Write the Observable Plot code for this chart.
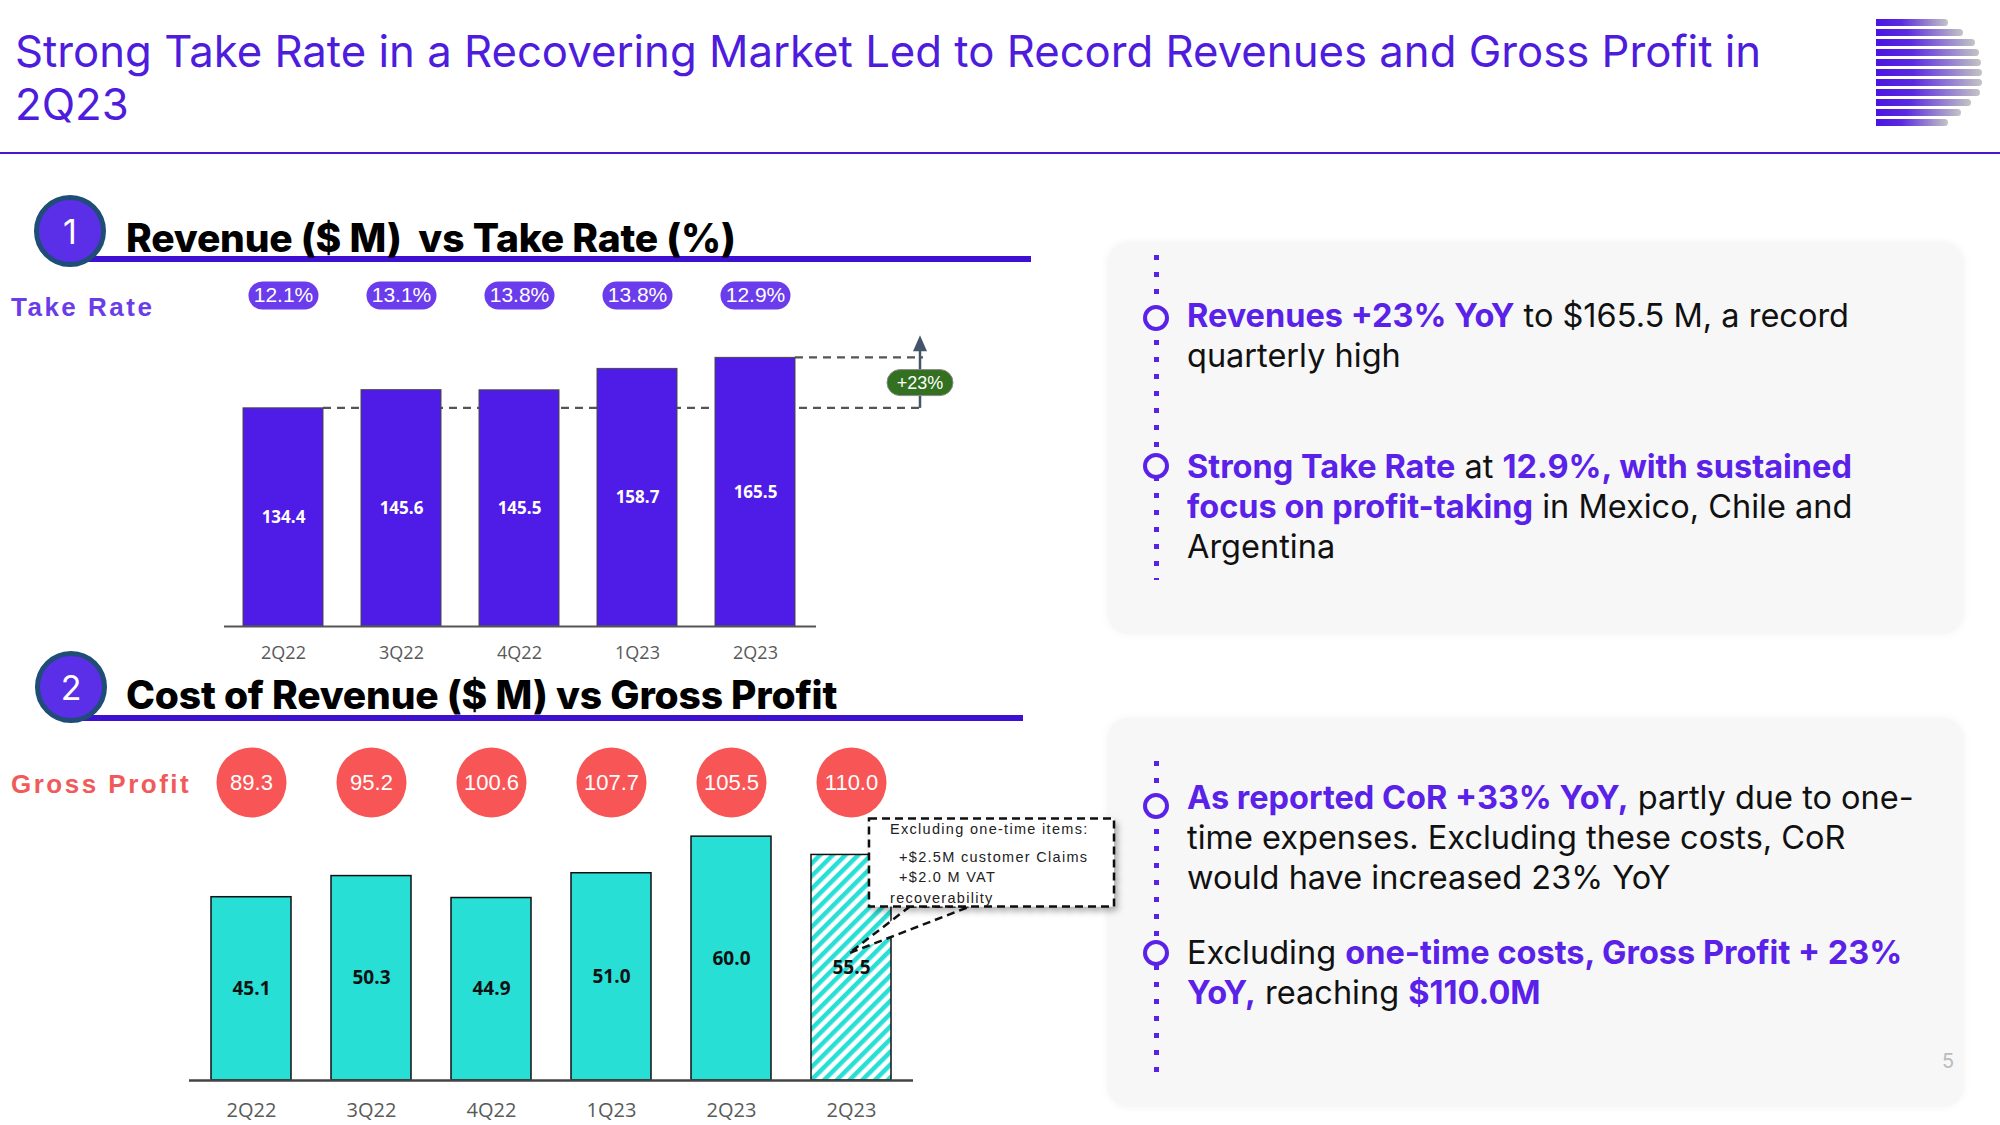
<!DOCTYPE html>
<html><head><meta charset="utf-8">
<script src="https://cdn.jsdelivr.net/npm/d3@7"></script>
<script src="https://cdn.jsdelivr.net/npm/@observablehq/plot@0.6"></script>
<style>
body{margin:0;width:2000px;height:1125px;position:relative;overflow:hidden;background:#fff;font-family:Inter,"Noto Sans",sans-serif;}
.abs{position:absolute;}
#title{left:15px;top:25px;font-size:43.7px;line-height:53px;color:#4E1CDC;white-space:nowrap;}
#rule{left:0;top:152px;width:2000px;height:2px;background:#4B14D0;}
.num{width:72px;height:72px;box-sizing:border-box;border:5px solid #1F4D78;background:#5B2EE8;border-radius:50%;color:#fff;font-size:34px;display:flex;align-items:center;justify-content:center;z-index:3;}
.uline{height:6px;background:#3D10D2;z-index:1;}
.head{font-weight:800;font-size:39px;line-height:1;color:#000;white-space:nowrap;letter-spacing:-0.2px;z-index:2;}
.lab{font-family:"Liberation Sans",Arial,sans-serif;font-weight:700;font-size:26px;letter-spacing:2.5px;white-space:nowrap;line-height:1;}
.panel{background:#F7F7F7;border-radius:22px;box-shadow:0 0 8px rgba(0,0,0,0.05);}
.dots{width:5px;background:repeating-linear-gradient(to bottom,#5A22E8 0 5px,transparent 5px 17px);}
.ring{width:26px;height:26px;box-sizing:border-box;border:4px solid #5A22E8;border-radius:50%;background:#F7F7F7;}
.txt{font-size:32.5px;line-height:40px;color:#111;white-space:nowrap;}
.txt b{color:#5A22E8;font-weight:700;}
#pg{left:1942px;top:1049px;font-size:20px;color:#bbb;}
.lg{height:7px;border-radius:0 4px 4px 0;background:linear-gradient(to right,#4B14E0 0%,#5A2AE0 35%,#c4c4c4 100%);}
</style></head><body>
<div id="title" class="abs">Strong Take Rate in a Recovering Market Led to Record Revenues and Gross Profit in<br>2Q23</div>
<div id="rule" class="abs"></div>
<div id="logo"></div>

<div class="abs uline" style="left:77px;top:256px;width:954px"></div>
<div class="abs num" style="left:34px;top:195px">1</div>
<div class="abs head" style="left:126px;top:218px">Revenue ($ M)&nbsp; vs Take Rate (%)</div>
<div class="abs lab" style="left:11px;top:294px;color:#6A3DE8">Take Rate</div>

<div class="abs uline" style="left:77px;top:715px;width:946px"></div>
<div class="abs num" style="left:35px;top:651px">2</div>
<div class="abs head" style="left:126px;top:675px">Cost of Revenue ($ M) vs Gross Profit</div>
<div class="abs lab" style="left:11px;top:771px;color:#F05A5A">Gross Profit</div>

<div class="abs panel" style="left:1107px;top:242px;width:857px;height:392px"></div>
<div class="abs dots" style="left:1154px;top:255px;height:325px"></div>
<div class="abs ring" style="left:1143px;top:305px"></div>
<div class="abs ring" style="left:1143px;top:453px"></div>
<div class="abs txt" style="left:1187px;top:296px"><b>Revenues +23% YoY</b> to $165.5 M, a record<br>quarterly high</div>
<div class="abs txt" style="left:1187px;top:447px"><b>Strong Take Rate</b> at <b>12.9%, with sustained<br>focus on profit-taking</b> in Mexico, Chile and<br>Argentina</div>

<div class="abs panel" style="left:1107px;top:718px;width:857px;height:389px"></div>
<div class="abs dots" style="left:1154px;top:761px;height:318px"></div>
<div class="abs ring" style="left:1143px;top:793px"></div>
<div class="abs ring" style="left:1143px;top:940px"></div>
<div class="abs txt" style="left:1187px;top:778px"><b>As reported CoR +33% YoY,</b> partly due to one-<br>time expenses. Excluding these costs, CoR<br>would have increased 23% YoY</div>
<div class="abs txt" style="left:1187px;top:933px">Excluding <b>one-time costs, Gross Profit + 23%<br>YoY,</b> reaching <b>$110.0M</b></div>
<div id="pg" class="abs">5</div>

<div id="c1" class="abs" style="left:0;top:270px"></div>
<div id="c2" class="abs" style="left:0;top:730px"></div>

<script>
// ---- data ----
const quarters = ["2Q22","3Q22","4Q22","1Q23","2Q23"];
const revenue = [134.4,145.6,145.5,158.7,165.5];
const takeRate = [12.1,13.1,13.8,13.8,12.9];

const corKeys = ["2Q22","3Q22","4Q22","1Q23","2Q23","2Q23 adj"];
const corLabels = ["2Q22","3Q22","4Q22","1Q23","2Q23","2Q23"];
const costOfRevenue = [45.1,50.3,44.9,51.0,60.0,55.5];
const grossProfit = [89.3,95.2,100.6,107.7,105.5,110.0];
const corAdjusted = [false,false,false,false,false,true];
const calloutLines = ["Excluding one-time items:","+$2.5M customer Claims","+$2.0 M VAT","recoverability"];

// ---- logo (decoration) ----
const logoW = [72,87,99,103,105,106,106,104,95,85,72];
const logo = document.getElementById("logo");
logoW.forEach((w,i)=>{const d=document.createElement("div");d.className="abs lg";d.style.left="1876px";d.style.top=(19+i*10)+"px";d.style.width=w+"px";logo.appendChild(d);});

const narrow = "'Liberation Sans Narrow','Liberation Sans',Arial,sans-serif";
const pill = (aspect)=>({draw(ctx,size){const r=Math.sqrt(size/Math.PI);const w=r*aspect;
  ctx.moveTo(-w+r,-r);ctx.lineTo(w-r,-r);ctx.arc(w-r,0,r,-Math.PI/2,Math.PI/2);ctx.lineTo(-w+r,r);ctx.arc(-w+r,0,r,Math.PI/2,3*Math.PI/2);ctx.closePath();}});

// ---- chart 1 ----
const revData = quarters.map((q,i)=>({q,v:revenue[i],tr:takeRate[i]}));
const p1 = Plot.plot({
  width:1050,height:400,marginLeft:204,marginRight:215,marginTop:20,marginBottom:44,
  style:{background:"transparent",overflow:"visible",fontFamily:"'Open Sans',sans-serif",fontSize:"18px",color:"#595959"},
  x:{domain:quarters,padding:0.32,label:null,tickSize:0,tickPadding:20},
  y:{domain:[0,207],axis:null},
  marks:[
    Plot.barY(revData,{x:"q",y:"v",fill:"#4F1BE6",stroke:"#4a4a4a",strokeWidth:1}),
    Plot.ruleY([0],{stroke:"#555",strokeWidth:2,insetLeft:20,insetRight:19}),
    Plot.text(revData,{x:"q",y:d=>d.v/2,text:d=>d.v.toFixed(1),fill:"white",fontWeight:700,fontSize:17}),
    Plot.dot(revData,{x:"q",frameAnchor:"top",dy:5,r:14,symbol:pill(2.5),fill:"#6B3CEB"}),
    Plot.text(revData,{x:"q",frameAnchor:"top",lineAnchor:"middle",dy:5,text:d=>d.tr.toFixed(1)+"%",fill:"white",fontSize:21,fontFamily:narrow})
  ]
});
document.getElementById("c1").appendChild(p1);
{
  const xs=p1.scale("x"), ys=p1.scale("y"), bw=xs.bandwidth;
  const first=revenue[0], last=revenue[revenue.length-1];
  const xEnd = xs.apply(quarters[quarters.length-1])+bw+128;
  const y0=ys.apply(first), y1=ys.apply(last);
  const svg=d3.select(p1);
  const g=svg.insert("g","g");
  g.append("line").attr("x1",xs.apply(quarters[0])+bw).attr("x2",xEnd).attr("y1",y0).attr("y2",y0)
    .attr("stroke","#555").attr("stroke-width",2.2).attr("stroke-dasharray","8,6");
  g.append("line").attr("x1",xs.apply(quarters[quarters.length-1])+bw).attr("x2",xEnd).attr("y1",y1).attr("y2",y1)
    .attr("stroke","#555").attr("stroke-width",2.2).attr("stroke-dasharray","8,6");
  const ax=xEnd-3;
  const a=svg.append("g");
  a.append("line").attr("x1",ax).attr("x2",ax).attr("y1",y0).attr("y2",y1-8).attr("stroke","#44546A").attr("stroke-width",2.5);
  a.append("path").attr("d",`M${ax-7},${y1-6}L${ax},${y1-22}L${ax+7},${y1-6}Z`).attr("fill","#44546A");
  const my=(y0+y1)/2;
  a.append("rect").attr("x",ax-33).attr("y",my-13).attr("width",66).attr("height",26).attr("rx",13)
    .attr("fill","#33701F").attr("stroke","#8a8a8a").attr("stroke-width",1);
  a.append("text").attr("x",ax).attr("y",my).attr("dy","0.35em").attr("text-anchor","middle")
    .attr("fill","#fff").attr("font-size",18).attr("font-family",narrow)
    .text("+"+Math.round((last/first-1)*100)+"%");
}

// ---- chart 2 ----
const corData = corKeys.map((k,i)=>({k,v:costOfRevenue[i],gp:grossProfit[i],adj:corAdjusted[i]}));
const p2 = Plot.plot({
  width:1130,height:395,marginLeft:169,marginRight:196,marginTop:20,marginBottom:45,
  style:{background:"transparent",overflow:"visible",fontFamily:"'Open Sans',sans-serif",fontSize:"20px",color:"#595959"},
  x:{domain:corKeys,padding:0.33,label:null,tickSize:0,tickPadding:22,tickFormat:d=>corLabels[corKeys.indexOf(d)]},
  y:{domain:[0,81.2],axis:null},
  marks:[
    Plot.barY(corData.filter(d=>!d.adj),{x:"k",y:"v",fill:"#27DFD5",stroke:"#111",strokeWidth:1.5}),
    Plot.barY(corData.filter(d=>d.adj),{x:"k",y:"v",fill:"url(#hatch)",stroke:"#111",strokeWidth:1.5}),
    Plot.ruleY([0],{stroke:"#444",strokeWidth:2.5,insetLeft:20,insetRight:21}),
    Plot.text(corData,{x:"k",y:d=>d.v/2,text:d=>d.v.toFixed(1),fill:"#111",fontWeight:700,fontSize:19}),
    Plot.dot(corData,{x:"k",frameAnchor:"top",dy:32,r:35,fill:"#F85656"}),
    Plot.text(corData,{x:"k",frameAnchor:"top",lineAnchor:"middle",dy:32,text:d=>d.gp.toFixed(1),fill:"white",fontSize:22,fontFamily:narrow})
  ]
});
document.getElementById("c2").appendChild(p2);
{
  const svg=d3.select(p2);
  const defs=svg.insert("defs",":first-child");
  defs.html(`<pattern id="hatch" patternUnits="userSpaceOnUse" width="9" height="9" patternTransform="rotate(45)"><rect width="9" height="9" fill="#fff"/><rect width="4.5" height="9" fill="#27DFD5"/></pattern>
  <filter id="shd" x="-10%" y="-10%" width="130%" height="140%"><feDropShadow dx="3" dy="4" stdDeviation="3" flood-color="#000" flood-opacity="0.3"/></filter>`);
  const xs=p2.scale("x"), ys=p2.scale("y"), bw=xs.bandwidth;
  const i=corAdjusted.indexOf(true), v=costOfRevenue[i];
  const bx=xs.apply(corKeys[i]);
  const L=bx+bw-22, T=ys.apply(v)-36, W=245, H=88;
  const g=svg.append("g").attr("text-anchor","start");
  const tipX=bx+bw/2-2, tipY=ys.apply(v/2)-14;
  g.append("path").attr("d",`M${L+41},${T+H}L${tipX},${tipY}L${L+101},${T+H}Z`).attr("fill","#fff")
    .attr("stroke","#111").attr("stroke-width",2.5).attr("stroke-dasharray","8,5");
  g.append("rect").attr("x",L).attr("y",T).attr("width",W).attr("height",H).attr("fill","#fff")
    .attr("stroke","#111").attr("stroke-width",2.5).attr("stroke-dasharray","8,5").attr("filter","url(#shd)");
  const tx=[L+21,L+30,L+30,L+21], ty=[T+10,T+38,T+58,T+79];
  calloutLines.forEach((s,j)=>g.append("text").attr("x",tx[j]).attr("y",ty[j]).attr("dy","0.35em")
    .attr("text-anchor","start")
    .attr("font-family","'Liberation Sans',Arial,sans-serif").attr("font-size",14.5).attr("letter-spacing",1.3)
    .attr("fill","#222").text(s));
}
</script>
</body></html>
